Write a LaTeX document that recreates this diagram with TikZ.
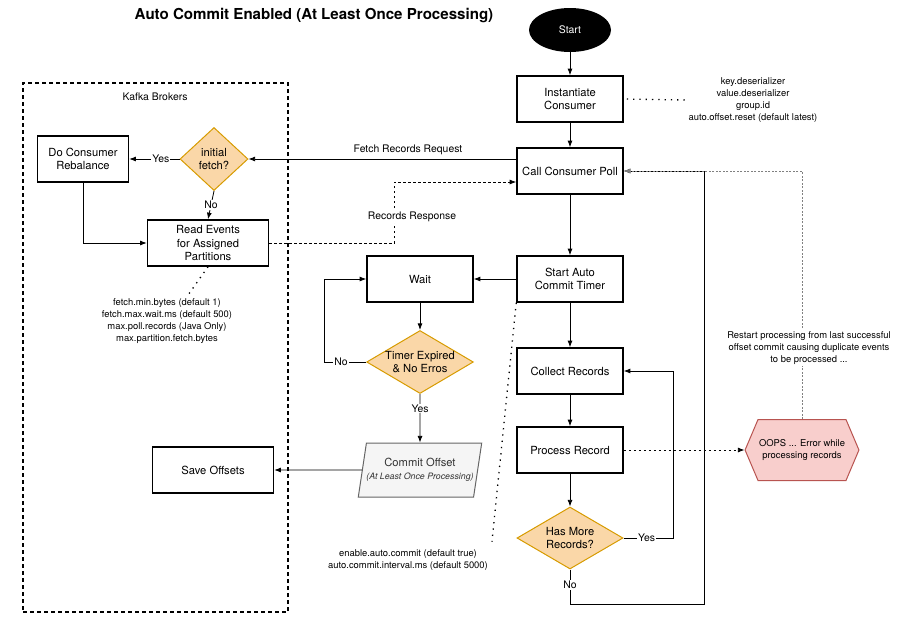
\documentclass[tikz,border=0pt]{standalone}
\usepackage{fontspec}
\setmainfont{TeX Gyre Heros}
\usepackage{tikz}
\usetikzlibrary{arrows.meta}
\usetikzlibrary{shapes.geometric}
\usetikzlibrary{shapes.symbols}
\definecolor{dioorange}{HTML}{FAD7A8}
\definecolor{dioorangeline}{HTML}{D79B00}
\definecolor{diopink}{HTML}{F8CECC}
\definecolor{diopinkline}{HTML}{B85450}
\definecolor{diogray}{HTML}{F5F5F5}
\definecolor{diograyline}{HTML}{666666}
\definecolor{diotext}{HTML}{333333}
\tikzstyle{stepbox} = [draw, line width=1.5pt, minimum width=106pt, minimum height=46pt, align=center, font=\fontsize{11.2}{13.4}\selectfont]
\tikzstyle{decision} = [diamond, draw=dioorangeline, fill=dioorange, line width=1pt, inner sep=0pt, align=center, font=\fontsize{11.2}{13.4}\selectfont]
\tikzstyle{note} = [align=center, font=\fontsize{9.4}{12.2}\selectfont]
\tikzstyle{edgelabel} = [fill=white, inner sep=1pt, font=\fontsize{10.4}{12}\selectfont]

\begin{document}
\begin{tikzpicture}[x=1pt, y=-1pt,
                    line width=0.8pt,
                    dotline/.style={line width=1.3pt, dash pattern=on 1.3pt off 5pt},
                    dashline/.style={dash pattern=on 2.5pt off 2.5pt}]

    \useasboundingbox (0,0) rectangle (920,625);

    \node[font=\fontsize{15.1}{18}\selectfont\bfseries] (title) at (314,16) {Auto Commit Enabled (At Least Once Processing)};

    % kafka brokers
    \node[draw, line width=1.5pt, dash pattern=on 4pt off 3pt, minimum width=265pt, minimum height=529pt] (brokers) at (155.5,347.5) {};
    \node[note, font=\fontsize{10.4}{12}\selectfont] (brokerslabel) at (155,97) {Kafka Brokers};
    \node[stepbox, minimum width=91pt] (rebal) at (83,159) {Do Consumer\\Rebalance};
    \node[decision, aspect=1.08, minimum width=68pt, minimum height=63pt] (fetch) at (214,159) {initial\\fetch?};
    \node[stepbox, minimum width=121pt] (read) at (208,243) {Read Events\\for Assigned\\Partitions};
    \node[note, font=\fontsize{9.4}{11.8}\selectfont] (fetchnote) at (167,321) {fetch.min.bytes (default 1)\\fetch.max.wait.ms (default 500)\\max.poll.records (Java Only)\\max.partition.fetch.bytes};
    \node[stepbox, minimum width=121pt] (save) at (213,470) {Save Offsets};

    % consumer
    \node[ellipse, fill=black, text=white, minimum width=82pt, minimum height=44pt, font=\fontsize{10.4}{12}\selectfont] (start) at (570,30) {Start};
    \node[stepbox] (inst) at (570,99) {Instantiate\\Consumer};
    \node[note] (cfgnote) at (753,100) {key.deserializer\\value.deserializer\\group.id\\auto.offset.reset (default latest)};
    \node[stepbox] (poll) at (570,171) {Call Consumer Poll};
    \node[stepbox] (autotimer) at (570,279) {Start Auto\\Commit Timer};
    \node[stepbox] (collect) at (570,371) {Collect Records};
    \node[stepbox] (process) at (570,450) {Process Record};
    \node[decision, aspect=1.7, minimum width=106pt, minimum height=62pt] (more) at (570,538) {Has More\\Records?};

    % commit timer
    \node[stepbox] (wait) at (420,279) {Wait};
    \node[decision, aspect=1.7, minimum width=106pt, minimum height=63pt] (timer) at (420,362) {Timer Expired\\\& No Erros};
    \node[trapezium, trapezium left angle=75, trapezium right angle=105, trapezium stretches body, draw=diograyline, fill=diogray, line width=1pt, text=diotext, minimum width=115pt, minimum height=54pt, align=center, inner xsep=0pt, font=\fontsize{11.2}{13.4}\selectfont] (commit) at (420,470) {Commit Offset\\{\fontsize{8.8}{11}\selectfont\itshape (At Least Once Processing)}};
    \node[note] (commitnote) at (408,560) {enable.auto.commit (default true)\\auto.commit.interval.ms (default 5000)};

    % error
    \node[signal, signal to=east and west, signal pointer angle=134, draw=diopinkline, fill=diopink, line width=1pt, minimum width=106pt, minimum height=61pt, align=center, inner sep=1pt, font=\fontsize{9.4}{12}\selectfont] (oops) at (802,450) {OOPS ... Error while\\processing records};

    % main flow
    \draw[-Latex] (start) -- (inst);
    \draw[-Latex] (inst) -- (poll);
    \draw[-Latex] (poll) -- (autotimer);
    \draw[-Latex] (autotimer) -- (collect);
    \draw[-Latex] (collect) -- (process);
    \draw[-Latex] (process) -- (more);
    \draw[-Latex] (more.east) -- node[edgelabel, pos=0.46]{Yes} ++(50,0) |- (collect.east);
    \draw[-Latex] (more.south) -- node[edgelabel, pos=0.45]{No} ++(0,35) -- ++(134,0) |- (poll.east);

    % fetch
    \draw[-Latex] (poll.west |- fetch.east) -- (fetch.east);
    \node[note, font=\fontsize{10.4}{12}\selectfont] (reqlabel) at (408,150) {Fetch Records Request};
    \draw[-Latex] (fetch.west) -- node[edgelabel, pos=0.37]{Yes} (rebal.east);
    \draw[-Latex] (fetch.south) -- node[edgelabel]{No} (read.north);
    \draw[-Latex] (rebal.south) |- (read.west);
    \draw[dashline, -Latex] (read.east) -- ++(125,0) |- ([yshift=-11pt]poll.west);
    \node[note, fill=white, inner sep=1pt, font=\fontsize{10.4}{12}\selectfont] (resplabel) at (412,217) {Records Response};

    % commit timer
    \draw[-Latex] (autotimer) -- (wait);
    \draw[-Latex] (wait) -- (timer);
    \draw[-Latex] (timer.west) -- node[edgelabel, pos=0.6]{No} ++(-42,0) |- (wait.west);
    \draw[-Latex] (timer.south) -- node[edgelabel, pos=0.3]{Yes} (commit.north);
    \draw[-Latex] (commit.west) -- (save.east);

    % error
    \draw[dashline, -Latex] (process.east) -- (oops.west);
    \draw[gray, dash pattern=on 2pt off 1.5pt, -Latex] (oops.north) |- (poll.east);
    \node[note, fill=white, inner sep=1pt] (restartnote) at (809,348) {Restart processing from last successful\\offset commit causing duplicate events\\to be processed ...};

    % notes
    \draw[dotline, shorten <=3pt] (inst.east) -- (cfgnote.west);
    \draw[dotline] (read.south) -- ([xshift=21pt]fetchnote.north);
    \draw[dotline, shorten >=4pt] (autotimer.south west) -- (commitnote.north east);
\end{tikzpicture}
\end{document}
